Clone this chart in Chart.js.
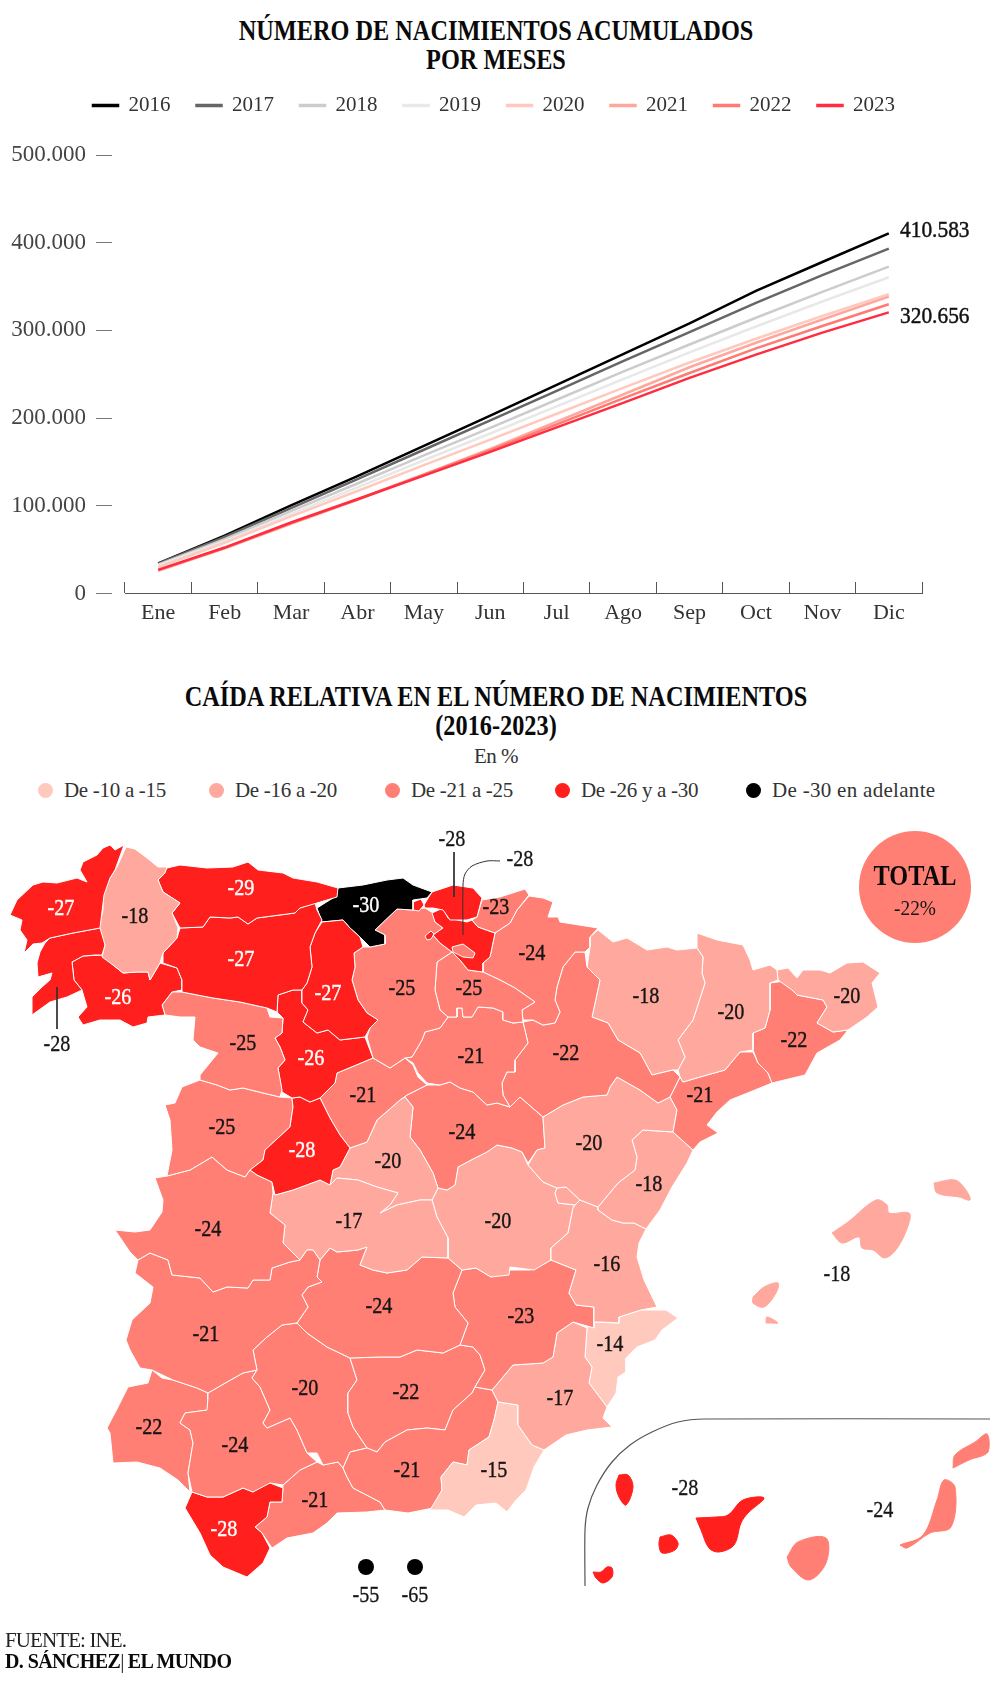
<!DOCTYPE html>
<html lang="es">
<head>
<meta charset="UTF-8">
<title>Nacimientos</title>
<script src="https://cdn.jsdelivr.net/npm/chart.js"></script>
<style>
    body { margin: 0; background: #fff; color: #111; font-family: 'Liberation Serif', serif; }
    #page { position: relative; width: 990px; height: 1685px; overflow: hidden; }
    canvas { position: absolute; left: 0; display: block; }
    .title { position: absolute; left: 0; width: 992px; text-align: center; font-weight: bold; font-size: 30px; line-height: 29px; color: #0a0a0a; transform: scaleX(.81); }
    #sub { position: absolute; left: 0; width: 992px; top: 744px; text-align: center; font-size: 21px; color: #333; letter-spacing: -.5px; }
    #mapLegend { position: absolute; left: 0; top: 777px; font-size: 21px; letter-spacing: -.3px; color: #333; line-height: 26px; }
    #mapLegend span { position: absolute; display: flex; align-items: center; gap: 11px; white-space: nowrap; }
    #mapLegend i { width: 15px; height: 15px; border-radius: 50%; display: block; }
    #source { position: absolute; left: 5px; top: 1630px; font-size: 21px; line-height: 21px; letter-spacing: -.9px; color: #222; }
    #source b { color: #0a0a0a; letter-spacing: -.6px; font-size: 20px; }
</style>
</head>
<body>
<div id="page">
    <div class="title" style="top:15px">NÚMERO DE NACIMIENTOS ACUMULADOS<br>POR MESES</div>
    <canvas id="lines" width="990" height="576" style="top:56px"></canvas>
    <div class="title" style="top:681px">CAÍDA RELATIVA EN EL NÚMERO DE NACIMIENTOS<br>(2016-2023)</div>
    <div id="sub">En %</div>
    <div id="mapLegend"></div>
    <canvas id="map" width="990" height="875" style="top:810px"></canvas>
    <div id="source">FUENTE: INE.<br><b>D. SÁNCHEZ</b>| <b>EL MUNDO</b></div>
</div>
<script>
    const months = ['Ene','Feb','Mar','Abr','May','Jun','Jul','Ago','Sep','Oct','Nov','Dic'];
    const years = ['2016','2017','2018','2019','2020','2021','2022','2023'];
    const lineColors = ['#000000','#666666','#cccccc','#e8e8e8','#ffc9bd','#ffa79c','#ff7a72','#ff2d3f'];

    const births2016 = [34500,66000,100500,134000,168500,203000,238000,273000,308000,345000,378000,410583];
    const births2017 = [34000,64500,97500,130500,164000,197500,231000,265000,298000,331500,363000,393181];
    const births2018 = [33000,62000,94000,125500,157500,189000,221000,253000,284000,314500,344000,372777];
    const births2019 = [32000,60000,90500,121000,152000,182500,213500,244500,275000,304500,333000,360617];
    const births2020 = [30000,58000,88000,117000,146500,175500,205000,234500,263500,290500,316500,341315];
    const births2021 = [26000,51500,79500,107000,136000,165000,196000,227000,258000,286000,312500,338532];
    const births2022 = [27000,52000,80500,107500,135500,163500,193000,222500,251500,279500,305000,329812];
    const births2023 = [27000,52500,81000,107500,134500,161500,189500,217500,246000,272500,297500,320656];
    const allBirths = [births2016,births2017,births2018,births2019,births2020,births2021,births2022,births2023];

    const binLabels = ['De -10 a -15','De -16 a -20','De -21 a -25','De -26 y a -30','De -30 en adelante'];
    const binColors = ['#ffcabd','#ffa99e','#ff7f75','#ff1f1c','#000000'];

    // provinces: drop in %, where its number sits, and its outline in map units (x,y,x,y...)
    const provinceNames = ['A Coruña','Pontevedra','Lugo','Asturias','León','Ourense','Zamora','Palencia','Cantabria','Bizkaia','Villaverde','Gipuzkoa','Álava','Orduña','Burgos','Treviño','La Rioja','Navarra','Soria','Zaragoza','Huesca','Lleida','Girona','Barcelona','Tarragona','Teruel','Castellón','Valencia','Ademuz','Valladolid','Ávila','Segovia','Salamanca','Cáceres','Badajoz','Toledo','Madrid','Guadalajara','Cuenca','Ciudad Real','Albacete','Murcia','Alicante','Almería','Granada','Jaén','Córdoba','Sevilla','Huelva','Cádiz','Málaga','Mallorca','Menorca','Ibiza','Formentera','El Hierro','La Palma','La Gomera','Tenerife','Gran Canaria','Fuerteventura','Lanzarote'];
    const provinceDrops = [-27,-28,-18,-29,-27,-26,-25,-27,-30,-28,-28,-23,-28,-28,-25,-25,-25,-24,-21,-22,-18,-20,-20,-22,-21,-20,-18,-16,-16,-26,-28,-21,-25,-24,-21,-17,-20,-24,-20,-24,-23,-17,-14,-15,-21,-22,-20.6,-24,-22,-28,-21,-18,-18,-18,-18,-28,-28,-28,-28,-24,-24,-24];
    const provinceOutlines = [
        [124,845,115,870,110,878,104,895,100,928,73,933,50,938,42,943,33,944,24,953,27,940,20,930,22,920,10,915,17,900,33,885,43,882,57,883,77,878,87,882,80,870,83,862,97,855,103,848,110,845,115,850],
        [100,928,105,945,102,955,95,955,83,956,72,962,74,980,82,990,67,997,50,1002,32,1015,32,997,42,987,50,980,52,973,38,977,37,963,40,952,45,943,50,938,73,933],
        [126,847,135,849,147,858,158,867,167,867,165,873,158,880,163,892,180,903,172,913,178,928,177,938,163,953,160,963,150,980,148,972,137,972,123,973,113,965,102,957,105,945,98,932,103,910,103,893,110,878,117,867],
        [167,868,180,865,207,868,233,867,248,862,258,870,283,873,293,878,317,882,338,888,337,897,317,903,300,908,295,913,257,918,248,924,238,917,230,918,210,917,203,927,180,928,172,913,180,903,163,892,158,880],
        [180,928,203,927,210,917,230,918,238,917,248,924,257,918,295,913,300,908,315,903,317,910,322,920,315,933,310,947,312,967,307,983,302,990,293,990,278,995,277,1012,267,1008,240,1002,213,998,182,992,182,980,177,968,163,963,163,953,177,938],
        [72,962,83,956,102,955,113,965,123,973,137,972,148,972,150,980,160,963,177,968,182,980,182,990,172,992,162,1005,165,1015,148,1017,147,1023,133,1027,120,1020,100,1020,83,1025,78,1017,87,1007,82,990,74,980],
        [172,992,182,992,213,998,240,1002,267,1008,270,1017,283,1018,282,1033,275,1038,280,1047,285,1060,278,1068,282,1090,280,1097,263,1093,243,1088,230,1090,217,1085,200,1080,200,1075,218,1053,200,1047,193,1040,195,1017,180,1017,165,1015,162,1005],
        [322,922,343,920,350,928,360,937,363,947,354,953,355,967,352,980,358,1000,367,1013,378,1020,370,1028,365,1037,340,1040,328,1030,317,1033,303,1022,308,1010,302,1003,302,990,307,983,312,967,310,947,315,933],
        [338,888,363,885,387,880,403,878,413,885,432,892,427,898,413,900,413,910,397,909,375,930,385,935,385,944,370,947,360,937,350,928,343,920,322,922,317,908,333,898],
        [432,892,453,885,473,888,482,898,477,917,467,920,450,920,443,910,433,908,425,908,424,905,427,900],
        [413,902,421,899,424,905,419,911,413,910],
        [525,889,529,895,517,910,510,923,495,933,478,927,472,920,477,917,482,900,500,897],
        [432,913,443,908,448,918,467,922,472,920,478,927,495,933,490,957,483,963,483,972,468,970,460,960,452,952,440,943,433,935,443,928,435,922],
        [425,936,431,931,434,934,431,939,427,940],
        [354,953,363,947,370,947,385,944,385,935,375,930,397,909,413,910,425,908,433,913,435,922,443,928,433,935,440,943,452,952,437,962,435,990,440,1010,448,1017,440,1028,425,1032,422,1040,412,1057,405,1058,390,1068,373,1058,367,1037,370,1028,378,1020,367,1013,358,1000,352,980,355,967],
        [452,947,463,944,475,953,473,958,463,957,453,952],
        [437,962,452,952,460,960,468,970,483,972,500,980,515,988,535,1002,522,1010,523,1022,513,1023,503,1020,503,1012,493,1008,478,1007,472,1017,463,1017,462,1008,457,1008,457,1017,448,1017,440,1010,435,990],
        [529,896,543,898,553,902,548,917,558,917,560,922,598,928,590,937,590,947,585,952,575,952,563,967,557,987,555,1000,560,1012,555,1023,543,1025,533,1020,523,1020,522,1010,535,1002,515,988,500,980,483,972,483,963,490,957,495,933,510,923,517,910],
        [448,1017,457,1017,457,1008,462,1008,463,1017,472,1017,478,1007,493,1008,503,1012,503,1020,513,1023,523,1022,528,1043,515,1060,515,1072,507,1072,502,1083,503,1095,510,1107,497,1103,487,1105,473,1092,460,1088,450,1082,440,1085,427,1083,418,1073,413,1063,405,1058,412,1057,422,1040,425,1032,440,1028],
        [523,1022,533,1020,543,1025,555,1023,560,1012,555,1000,557,987,563,967,575,952,585,952,587,967,600,980,592,1017,608,1023,618,1040,640,1053,652,1075,673,1070,680,1077,670,1097,658,1103,640,1090,617,1077,610,1087,607,1095,583,1097,563,1105,543,1117,520,1097,510,1107,503,1095,502,1083,507,1072,515,1072,515,1060,528,1043],
        [598,930,613,942,627,938,647,950,667,947,677,950,697,948,703,957,702,973,705,983,693,1020,678,1040,685,1057,678,1070,673,1070,652,1075,640,1053,618,1040,608,1023,592,1017,600,980,587,967,590,947,590,937],
        [697,933,717,940,743,945,750,960,753,970,770,965,777,970,778,980,770,983,770,1010,765,1028,753,1033,753,1050,740,1052,725,1070,707,1075,683,1082,680,1077,678,1070,685,1057,678,1040,693,1020,705,983,702,973,703,957,697,948],
        [778,980,777,970,788,968,797,978,803,970,820,970,830,973,847,963,863,962,880,973,872,983,878,1007,867,1017,848,1030,833,1032,817,1023,827,1007,823,1000,797,995,792,990],
        [770,983,792,980,797,995,823,1000,827,1007,817,1023,833,1032,848,1030,840,1040,817,1053,805,1075,772,1083,768,1073,758,1063,753,1050,753,1033,765,1028,770,1010],
        [753,1052,758,1063,768,1073,772,1083,750,1092,730,1100,717,1112,707,1125,718,1133,700,1142,693,1150,673,1132,677,1110,670,1097,680,1077,683,1082,707,1075,725,1070,740,1052],
        [543,1117,563,1105,583,1097,607,1095,610,1087,617,1077,640,1090,658,1103,670,1097,677,1110,673,1132,643,1130,632,1140,637,1157,635,1170,618,1183,598,1207,580,1200,566,1187,557,1188,543,1182,528,1165,537,1150,545,1148],
        [673,1132,693,1150,687,1163,672,1187,660,1210,646,1229,634,1223,623,1223,612,1220,598,1210,598,1207,618,1183,635,1170,637,1157,632,1140,643,1130],
        [573,1208,575,1205,580,1200,598,1207,598,1210,612,1220,623,1223,634,1223,646,1229,639,1243,637,1257,644,1280,657,1307,641,1310,619,1317,619,1323,601,1322,594,1322,594,1307,576,1305,569,1293,576,1270,551,1260,551,1248,568,1233],
        [557,1188,566,1187,580,1200,575,1205,558,1203,555,1193],
        [278,995,293,990,302,990,302,1003,308,1010,303,1022,317,1033,328,1030,340,1040,365,1037,373,1058,337,1073,335,1083,320,1098,310,1102,300,1097,292,1098,282,1092,278,1068,285,1060,280,1047,275,1038,282,1033,283,1018,277,1012],
        [292,1098,300,1097,310,1102,320,1098,330,1118,340,1135,350,1148,340,1167,333,1170,330,1185,320,1180,293,1190,275,1195,272,1182,257,1175,250,1170,263,1160,265,1150,290,1127,293,1107],
        [337,1073,373,1058,390,1068,405,1058,413,1065,418,1077,427,1085,407,1095,400,1100,377,1120,367,1142,350,1148,340,1135,330,1118,320,1098,335,1083],
        [200,1080,217,1085,230,1090,243,1088,263,1093,280,1097,292,1098,293,1107,290,1127,265,1150,263,1160,250,1170,245,1177,227,1170,212,1157,190,1170,167,1176,172,1150,170,1120,165,1105,175,1103,182,1087],
        [155,1178,167,1176,190,1170,212,1157,227,1170,245,1177,250,1170,257,1175,272,1182,273,1193,270,1213,285,1225,283,1243,300,1260,290,1262,272,1268,270,1280,253,1280,248,1288,227,1287,213,1292,200,1278,172,1275,168,1260,150,1253,138,1260,130,1252,115,1230,135,1232,150,1230,162,1212,163,1200],
        [300,1260,307,1250,313,1250,320,1260,317,1277,322,1282,308,1287,302,1295,308,1307,297,1323,282,1325,267,1337,253,1350,257,1370,243,1373,227,1382,208,1393,197,1388,173,1380,152,1370,140,1368,130,1350,126,1340,132,1320,150,1303,153,1287,135,1273,138,1260,150,1253,168,1260,172,1275,200,1278,213,1292,227,1287,248,1288,253,1280,270,1280,272,1268,290,1262],
        [273,1193,275,1195,293,1190,320,1180,330,1185,337,1178,358,1180,377,1187,398,1193,390,1205,380,1213,397,1205,420,1200,432,1200,437,1217,448,1238,448,1258,422,1257,407,1270,387,1273,373,1270,360,1265,367,1247,358,1250,337,1252,330,1248,320,1260,313,1250,307,1250,300,1260,283,1243,285,1225,270,1213],
        [405,1097,413,1107,410,1137,420,1150,433,1173,438,1188,432,1200,420,1200,397,1205,380,1213,390,1205,398,1193,377,1187,358,1180,337,1178,330,1185,333,1170,340,1167,350,1148,367,1142,377,1120,400,1100],
        [427,1085,440,1085,450,1082,460,1088,473,1092,487,1105,497,1103,510,1107,520,1097,543,1117,545,1148,537,1150,528,1163,522,1152,512,1148,497,1145,487,1152,475,1158,458,1167,455,1185,447,1190,438,1188,433,1173,420,1150,410,1137,413,1107,405,1097,407,1095],
        [432,1200,438,1188,447,1190,455,1185,458,1167,475,1158,487,1152,497,1145,512,1148,522,1152,528,1165,543,1182,557,1188,555,1193,558,1203,575,1205,573,1208,568,1233,551,1248,551,1260,534,1270,510,1267,509,1275,491,1277,476,1268,462,1270,448,1258,448,1238,437,1217],
        [320,1260,330,1248,337,1252,358,1250,367,1247,360,1265,373,1270,387,1273,407,1270,422,1257,448,1258,462,1270,453,1293,455,1307,468,1323,460,1345,443,1353,417,1350,400,1357,380,1357,350,1358,327,1347,307,1333,297,1323,308,1307,302,1295,308,1287,322,1282,317,1277],
        [462,1270,476,1268,491,1277,510,1270,530,1270,551,1260,576,1270,569,1293,576,1305,594,1307,594,1328,573,1322,557,1333,553,1357,543,1363,513,1365,492,1390,475,1387,485,1370,480,1355,473,1347,460,1345,468,1323,455,1307,453,1293],
        [492,1390,513,1365,543,1363,553,1357,557,1333,573,1322,587,1328,585,1357,592,1367,589,1383,607,1407,603,1418,612,1427,587,1430,566,1435,544,1450,532,1445,518,1425,518,1405,498,1402],
        [587,1328,594,1322,619,1323,619,1317,641,1310,666,1310,678,1318,662,1330,655,1340,637,1347,626,1358,626,1372,618,1377,616,1393,607,1407,589,1383,592,1367,585,1357],
        [498,1402,518,1405,518,1425,532,1445,544,1450,534,1467,526,1490,516,1500,507,1512,496,1503,476,1505,464,1517,448,1510,430,1510,442,1490,441,1477,453,1462,467,1465,469,1450,489,1437,494,1420],
        [343,1468,350,1452,367,1448,377,1452,385,1442,407,1430,427,1428,445,1430,453,1410,472,1393,475,1387,492,1390,498,1402,494,1420,489,1437,469,1450,467,1465,453,1462,441,1477,442,1490,433,1508,408,1513,385,1510,380,1502,353,1488,347,1477],
        [350,1358,380,1357,400,1357,417,1350,443,1353,460,1345,473,1347,480,1355,485,1370,475,1387,472,1393,453,1410,445,1430,427,1428,407,1430,385,1442,377,1452,367,1448,353,1427,348,1413,348,1393,357,1380],
        [297,1323,307,1333,327,1347,350,1358,357,1380,348,1393,348,1413,353,1427,367,1448,350,1452,343,1468,338,1462,323,1465,317,1453,307,1453,297,1430,290,1418,267,1428,263,1423,270,1410,260,1387,252,1378,257,1370,253,1350,267,1337,282,1325],
        [208,1393,227,1382,243,1373,257,1370,252,1378,260,1387,270,1410,263,1423,267,1428,290,1418,297,1430,307,1453,317,1462,300,1470,283,1485,270,1483,253,1492,243,1488,223,1497,207,1497,192,1492,188,1473,193,1443,190,1430,180,1423,185,1413,207,1410,208,1398],
        [152,1370,162,1378,173,1380,197,1388,208,1393,208,1410,185,1413,180,1423,190,1430,193,1443,188,1473,190,1492,178,1480,160,1468,137,1462,113,1463,110,1433,107,1428,118,1407,128,1387,148,1383],
        [192,1492,207,1497,223,1497,243,1488,253,1492,257,1482,270,1483,283,1488,282,1502,270,1502,267,1517,255,1527,262,1533,270,1548,263,1563,247,1577,223,1567,210,1555,200,1533,185,1508],
        [283,1485,300,1470,317,1462,323,1465,338,1462,343,1468,347,1477,353,1488,380,1502,385,1510,367,1512,337,1513,327,1523,313,1533,287,1538,272,1548,262,1533,255,1527,267,1517,270,1502,282,1502],
        [832,1233,848,1222,876,1200,887,1205,889,1213,909,1213,909,1223,898,1247,885,1258,873,1250,862,1248,859,1237,842,1243],
        [934,1183,955,1180,966,1190,970,1200,959,1197,937,1193],
        [753,1297,764,1287,778,1283,776,1293,764,1307,753,1303],
        [766,1323,767,1317,778,1323,771,1323],
        [593,1572,601,1572,607,1567,612,1568,612,1577,603,1583,596,1578],
        [619,1475,628,1475,633,1487,626,1505,619,1497,616,1485],
        [660,1537,671,1535,678,1543,675,1550,662,1553,659,1545],
        [696,1518,716,1517,728,1515,743,1500,764,1498,748,1513,741,1523,734,1545,719,1552,709,1548,701,1530],
        [787,1557,798,1542,826,1538,826,1563,809,1580,791,1567],
        [900,1545,923,1535,937,1500,944,1480,955,1487,951,1527,930,1533,907,1548],
        [953,1468,955,1455,975,1442,987,1434,988,1452,969,1460]
    ];

    // numbers printed on the map: value, x, y in map units
    const mapLabelValues = [-27,-18,-29,-27,-30,-27,-26,-25,-25,-25,-26,-25,-21,-28,-20,-21,-24,-22,-20,-24,-23,-18,-20,-20,-22,-21,-18,-16,-14,-17,-15,-23,-20,-17,-24,-21,-24,-20,-22,-22,-24,-21,-21,-28];
    const mapLabelX = [61,135,241,241,366,328,118,243,402,469,311,222,363,302,388,471,462,566,589,532,496,646,731,847,794,700,649,607,610,560,494,521,498,349,208,206,379,305,406,149,235,407,315,224];
    const mapLabelY = [909,917,889,960,906,994,998,1044,989,989,1059,1128,1096,1151,1162,1057,1133,1054,1144,954,908,997,1013,997,1041,1096,1185,1265,1345,1399,1471,1317,1222,1222,1230,1335,1307,1389,1393,1428,1446,1471,1501,1530];
    // numbers that sit off their shape
    const outsideValues = [-28,-28,-28,-18,-28,-24,-55,-65];
    const outsideX = [57,452,520,837,685,880,366,415];
    const outsideY = [1045,840,860,1275,1489,1511,1596,1596];

    const leaderLines = [
        [57,987,57,1029],
        [454,852,454,897],
        [463,935,463,885,465,874,472,866,487,861,500,861]
    ];
    const insetFrame = [585,1586,585,1530,588,1508,597,1485,612,1462,630,1445,652,1432,678,1422,705,1419,990,1419];
    const ceutaMelillaX = [366,415];
    const ceutaMelillaY = [1567,1567];
    const totalLabel = 'TOTAL';
    const totalValue = -22;

    const legendLefts = [38, 209, 385, 555, 746];
    const firstIsland = provinceNames.indexOf('Mallorca');

    function binColor(v) {
        if (v <= -30) return binColors[4];
        if (v <= -26) return binColors[3];
        if (v <= -20.5) return binColors[2];
        if (v <= -16) return binColors[1];
        return binColors[0];
    }
    function toPoints(flat) {
        const pts = [];
        for (let i = 0; i < flat.length; i += 2) pts.push({x: flat[i], y: flat[i + 1]});
        return pts;
    }
    function squeezedText(ctx, text, x, y, font, color, sx, stroke) {
        ctx.save();
        ctx.translate(x, y);
        ctx.scale(sx, 1);
        ctx.font = font;
        ctx.textAlign = 'center';
        ctx.textBaseline = 'middle';
        ctx.fillStyle = color;
        ctx.fillText(text, 0, 0);
        if (stroke) {
            ctx.strokeStyle = color;
            ctx.lineWidth = stroke;
            ctx.strokeText(text, 0, 0);
        }
        ctx.restore();
    }

    Chart.defaults.font.family = "'Liberation Serif', serif";
    Chart.defaults.animation = false;

    // last values next to the first and last year
    const endLabels = {
        id: 'endLabels',
        afterDatasetsDraw(chart) {
            const {ctx, scales} = chart;
            [[births2016, 2], [births2023, -5]].forEach(([serie, shift]) => {
                const v = serie[serie.length - 1];
                const x = scales.x.getPixelForValue(months.length - 1) + 46;
                const y = scales.y.getPixelForValue(v) - shift;
                const txt = String(v).replace(/\B(?=(\d{3})+$)/g, '.');
                squeezedText(ctx, txt, x, y, '23px "Liberation Serif"', '#111', .93, .45);
            });
        }
    };

    // more room under the legend, and centre it on the page, not on the plot
    const legendGap = {
        id: 'legendGap',
        beforeInit(chart) {
            const legend = chart.legend;
            const fit = legend.fit;
            const draw = legend.draw;
            legend.fit = function () {
                fit.call(this);
                this.height += 29;
            };
            legend.draw = function () {
                this.ctx.save();
                this.ctx.translate(33, 0);
                draw.call(this);
                this.ctx.restore();
            };
        }
    };

    new Chart(document.getElementById('lines'), {
        type: 'line',
        data: {
            labels: months,
            datasets: years.map((y, i) => ({
                label: y,
                data: allBirths[i],
                borderColor: lineColors[i],
                backgroundColor: lineColors[i],
                borderWidth: 2.5,
                pointRadius: 0,
                order: years.length - i
            }))
        },
        options: {
            responsive: false,
            layout: {autoPadding: false, padding: {top: 13, right: 68, left: 0, bottom: 0}},
            plugins: {
                tooltip: {enabled: false},
                legend: {
                    position: 'top',
                    labels: {
                        boxWidth: 25,
                        boxHeight: 1,
                        padding: 26,
                        color: '#333',
                        font: {size: 21},
                        sort: (a, b) => a.datasetIndex - b.datasetIndex
                    }
                }
            },
            scales: {
                x: {
                    offset: true,
                    grid: {offset: true, color: '#555', drawTicks: false},
                    border: {color: '#555', dash: [0, 427, 11, 100]},
                    ticks: {color: '#333', font: {size: 22}, padding: 6, maxRotation: 0, autoSkip: false}
                },
                y: {
                    min: 0,
                    max: 500000,
                    afterFit(scale) { scale.width = 125; },
                    border: {display: false},
                    grid: {drawOnChartArea: false, tickLength: 29, tickColor: '#777', tickBorderDash: [16, 13]},
                    ticks: {
                        stepSize: 100000,
                        color: '#444',
                        padding: 10,
                        font: {size: 23},
                        callback: v => String(v).replace(/\B(?=(\d{3})+$)/g, '.')
                    }
                }
            }
        },
        plugins: [endLabels, legendGap]
    });

    // map legend
    const legendBox = document.getElementById('mapLegend');
    binLabels.forEach((label, i) => {
        const item = document.createElement('span');
        item.style.left = legendLefts[i] + 'px';
        if (i === 4) item.style.letterSpacing = '.3px';
        item.innerHTML = '<i style="background:' + binColors[i] + '"></i>' + label;
        legendBox.appendChild(item);
    });

    const mapNumbers = {
        id: 'mapNumbers',
        afterDatasetsDraw(chart) {
            const {ctx, scales} = chart;
            const font = '24px "Liberation Serif"';
            mapLabelValues.forEach((v, i) => {
                const color = v <= -26 ? '#fff' : '#151515';
                squeezedText(ctx, String(v), scales.x.getPixelForValue(mapLabelX[i]), scales.y.getPixelForValue(mapLabelY[i]), font, color, .84, .4);
            });
            outsideValues.forEach((v, i) => {
                squeezedText(ctx, String(v), scales.x.getPixelForValue(outsideX[i]), scales.y.getPixelForValue(outsideY[i]), font, '#151515', .84, .3);
            });
            const tx = scales.x.getPixelForValue(915);
            squeezedText(ctx, totalLabel, tx, scales.y.getPixelForValue(877), 'bold 30px "Liberation Serif"', '#0a0a0a', .81);
            squeezedText(ctx, totalValue + '%', tx, scales.y.getPixelForValue(909), '22px "Liberation Serif"', '#151515', .88);
        }
    };

    const shapeSets = provinceOutlines.map((outline, i) => ({
        label: provinceNames[i],
        data: toPoints(outline.concat(outline.slice(0, 2))),
        showLine: true,
        fill: 'shape',
        backgroundColor: binColor(provinceDrops[i]),
        borderColor: i >= firstIsland ? binColor(provinceDrops[i]) : '#ffffff',
        borderWidth: 1,
        pointRadius: 0,
        tension: i >= firstIsland ? .35 : 0,
        // Treviño sits inside Álava, and Álava is listed first
        order: provinceNames[i] === 'Treviño' ? -1 : 0
    }));
    const lineSets = leaderLines.map((l, i) => ({
        data: toPoints(l),
        showLine: true,
        borderColor: '#333',
        borderWidth: 1,
        pointRadius: 0,
        tension: i === 2 ? .3 : 0,
        order: -2
    }));
    const frameSet = {
        data: toPoints(insetFrame),
        showLine: true,
        borderColor: '#555',
        borderWidth: 1.2,
        pointRadius: 0,
        tension: .25,
        order: -2
    };
    const dotSet = {
        data: ceutaMelillaX.map((x, i) => ({x: x, y: ceutaMelillaY[i]})),
        backgroundColor: '#000',
        borderWidth: 0,
        pointRadius: 8
    };
    const totalSet = {
        data: [{x: 915, y: 887}],
        backgroundColor: binColor(totalValue),
        borderWidth: 0,
        pointRadius: 56
    };

    new Chart(document.getElementById('map'), {
        type: 'scatter',
        data: {datasets: [...shapeSets, ...lineSets, frameSet, dotSet, totalSet]},
        options: {
            responsive: false,
            layout: {autoPadding: false},
            plugins: {legend: {display: false}, tooltip: {enabled: false}},
            scales: {
                x: {type: 'linear', min: 0, max: 990, display: false},
                y: {type: 'linear', min: 810, max: 1685, reverse: true, display: false}
            }
        },
        plugins: [mapNumbers]
    });
</script>
</body>
</html>
